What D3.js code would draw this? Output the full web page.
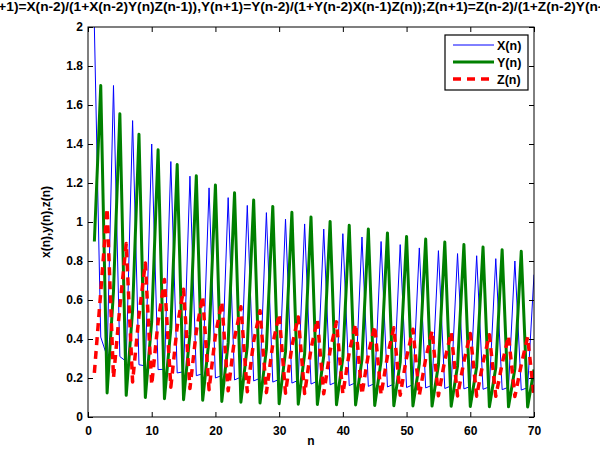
<!DOCTYPE html>
<html>
<head>
<meta charset="utf-8">
<script src="https://cdn.jsdelivr.net/npm/d3@7"></script>
<style>
  body { margin: 0; background: #fff; }
  svg { display: block; }
  text { font-family: "Liberation Sans", Arial, Helvetica, sans-serif; font-weight: bold; }
</style>
</head>
<body>
<svg id="chart" width="600" height="455"></svg>
<script>
// values, n = 1..70
const nValues = d3.range(1, 71);

const xValues = [
  2.0, 0.41, 0.31, 1.70, 0.31, 0.285, 1.52, 0.268, 0.262, 1.40,
  0.243, 0.245, 1.31, 0.226, 0.232, 1.235, 0.212, 0.222, 1.175, 0.200,
  0.213, 1.125, 0.190, 0.205, 1.085, 0.185, 0.199, 1.048, 0.179, 0.193,
  1.015, 0.174, 0.188, 0.99, 0.169, 0.184, 0.964, 0.165, 0.180, 0.94,
  0.161, 0.176, 0.923, 0.157, 0.172, 0.90, 0.154, 0.169, 0.884, 0.151,
  0.166, 0.867, 0.149, 0.163, 0.853, 0.146, 0.160, 0.838, 0.144, 0.157,
  0.827, 0.142, 0.155, 0.812, 0.140, 0.153, 0.80, 0.138, 0.151, 0.73
];

const yValues = [
  0.90, 1.70, 0.123, 0.645, 1.555, 0.111, 0.547, 1.45, 0.100, 0.49,
  1.37, 0.094, 0.453, 1.295, 0.089, 0.425, 1.237, 0.086, 0.40, 1.19,
  0.080, 0.38, 1.15, 0.076, 0.363, 1.113, 0.072, 0.348, 1.08, 0.068,
  0.335, 1.05, 0.066, 0.323, 1.026, 0.064, 0.313, 1.003, 0.063, 0.303,
  0.983, 0.062, 0.295, 0.964, 0.059, 0.287, 0.944, 0.058, 0.28, 0.926,
  0.057, 0.273, 0.913, 0.056, 0.267, 0.897, 0.055, 0.262, 0.884, 0.054,
  0.257, 0.872, 0.053, 0.252, 0.858, 0.052, 0.248, 0.85, 0.051, 0.244
];

const zValues = [
  0.226, 0.64, 1.07, 0.200, 0.565, 0.89, 0.180, 0.52, 0.79, 0.165,
  0.488, 0.705, 0.153, 0.463, 0.655, 0.146, 0.44, 0.62, 0.140, 0.42,
  0.59, 0.134, 0.403, 0.565, 0.129, 0.388, 0.545, 0.125, 0.374, 0.528,
  0.122, 0.362, 0.513, 0.120, 0.35, 0.50, 0.119, 0.34, 0.488, 0.118,
  0.33, 0.477, 0.116, 0.321, 0.467, 0.114, 0.313, 0.458, 0.112, 0.305,
  0.45, 0.111, 0.298, 0.442, 0.109, 0.291, 0.435, 0.108, 0.285, 0.428,
  0.107, 0.279, 0.422, 0.106, 0.273, 0.416, 0.105, 0.268, 0.41, 0.104
];

const xTicks = [0, 10, 20, 30, 40, 50, 60, 70];
const yTicks = [0, 0.2, 0.4, 0.6, 0.8, 1, 1.2, 1.4, 1.6, 1.8, 2];
const seriesNames = ["X(n)", "Y(n)", "Z(n)"];

const titleText = "X(n+1)=X(n-2)/(1+X(n-2)Y(n)Z(n-1)),Y(n+1)=Y(n-2)/(1+Y(n-2)X(n-1)Z(n));Z(n+1)=Z(n-2)/(1+Z(n-2)Y(n-1)X(n))";

// plot box
const margin = {top: 27, right: 66, bottom: 38, left: 88};
const svgEl = d3.select("#chart");
const width = 600 - margin.left - margin.right;
const height = 455 - margin.top - margin.bottom;

const svg = svgEl.append("g")
    .attr("transform", `translate(${margin.left},${margin.top})`);

const xScale = d3.scaleLinear().domain([0, 70]).range([0, width]);
const yScale = d3.scaleLinear().domain([0, 2]).range([height, 0]);

const fmt = v => String(+v.toFixed(1));

// clip for the lines
svg.append("clipPath").attr("id", "plot-clip")
  .append("rect").attr("width", width).attr("height", height);

// series
const series = [
  {name: seriesNames[0], values: xValues, color: "#0000ff", w: 1, dash: null},
  {name: seriesNames[1], values: yValues, color: "#008000", w: 3, dash: null},
  {name: seriesNames[2], values: zValues, color: "#ff0000", w: 3.5, dash: "8,6"}
];

const line = d3.line()
    .x(d => xScale(d[0]))
    .y(d => yScale(d[1]));

const lines = svg.append("g").attr("clip-path", "url(#plot-clip)");
series.forEach(s => {
  lines.append("path")
      .datum(nValues.map((n, i) => [n, s.values[i]]))
      .attr("fill", "none")
      .attr("stroke", s.color)
      .attr("stroke-width", s.w)
      .attr("stroke-linejoin", "round")
      .attr("stroke-dasharray", s.dash)
      .attr("d", line);
});

// axes, MATLAB style: inward ticks on all four sides
const tickLen = 5;
const axisBottom = d3.axisBottom(xScale).tickValues(xTicks).tickSizeInner(-tickLen).tickSizeOuter(0).tickPadding(9).tickFormat(d => d);
const axisTop = d3.axisTop(xScale).tickValues(xTicks).tickSizeInner(-tickLen).tickSizeOuter(0).tickFormat("");
const axisLeft = d3.axisLeft(yScale).tickValues(yTicks).tickSizeInner(-tickLen).tickSizeOuter(0).tickPadding(5).tickFormat(fmt);
const axisRight = d3.axisRight(yScale).tickValues(yTicks).tickSizeInner(-tickLen).tickSizeOuter(0).tickFormat("");

function styleAxis(g) {
  g.select(".domain").remove();
  g.selectAll(".tick line").attr("stroke", "#000");
  g.selectAll(".tick text")
      .attr("fill", "#000")
      .style("font-size", "12px")
      .style("font-weight", "bold");
}

svg.append("g").attr("transform", `translate(0,${height})`).call(axisBottom).call(styleAxis);
svg.append("g").call(axisTop).call(styleAxis);
svg.append("g").call(axisLeft).call(styleAxis);
svg.append("g").attr("transform", `translate(${width},0)`).call(axisRight).call(styleAxis);

// box
svg.append("rect")
    .attr("width", width)
    .attr("height", height)
    .attr("fill", "none")
    .attr("stroke", "#000")
    .attr("stroke-width", 1);

// labels
svg.append("text")
    .attr("x", width / 2)
    .attr("y", height + 28)
    .attr("text-anchor", "middle")
    .style("font-size", "12px")
    .text("n");

svg.append("text")
    .attr("transform", "rotate(-90)")
    .attr("x", -height / 2)
    .attr("y", -38)
    .attr("text-anchor", "middle")
    .style("font-size", "12px")
    .text("x(n),y(n),z(n)");

// the title is wider than the window, as in the original
svg.append("text")
    .attr("x", width / 2)
    .attr("y", -16)
    .attr("text-anchor", "middle")
    .style("font-size", "13.7px")
    .text(titleText);

// legend
const legend = svgEl.append("g").attr("transform", "translate(445,35)");
legend.append("rect")
    .attr("width", 83)
    .attr("height", 55)
    .attr("fill", "#fff")
    .attr("stroke", "#000")
    .attr("stroke-width", 1.2);

series.forEach((s, i) => {
  const yy = 10 + i * 17;
  legend.append("line")
      .attr("x1", 8).attr("x2", 49)
      .attr("y1", yy).attr("y2", yy)
      .attr("stroke", s.color)
      .attr("stroke-width", s.w)
      .attr("stroke-dasharray", s.dash);
  legend.append("text")
      .attr("x", 52)
      .attr("y", yy + 4.5)
      .style("font-size", "12.5px")
      .text(s.name);
});
</script>
</body>
</html>
